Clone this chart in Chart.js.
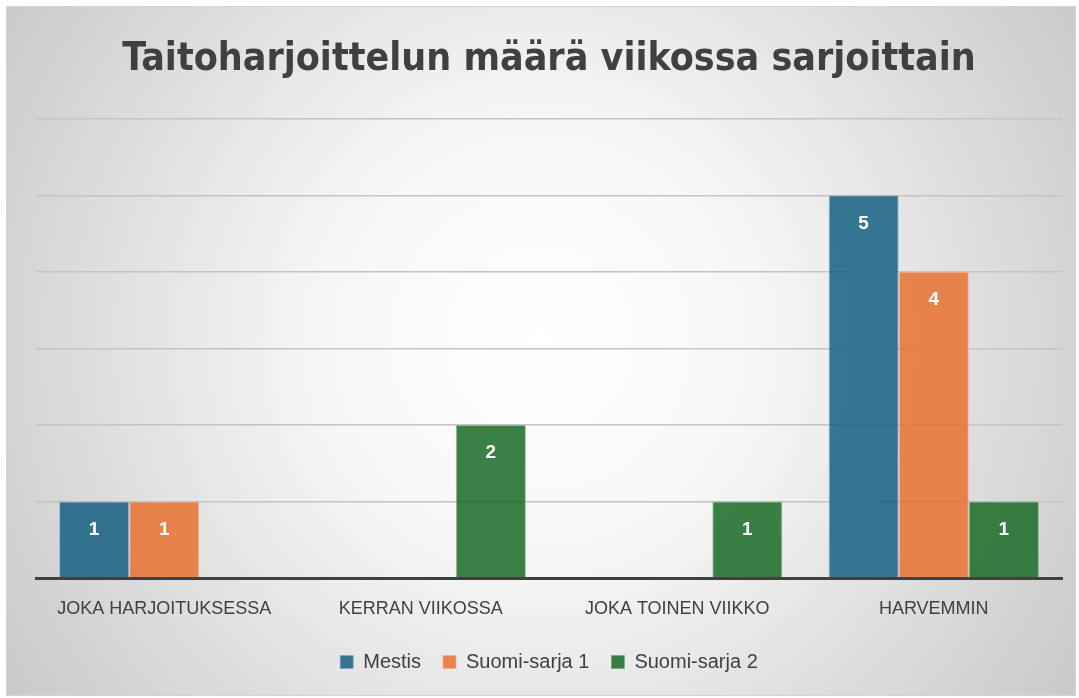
<!DOCTYPE html>
<html>
<head>
<meta charset="utf-8">
<script src="https://cdn.jsdelivr.net/npm/chart.js@4/dist/chart.umd.min.js"></script>
<style>
html,body{margin:0;padding:0;background:#ffffff;}
#wrap{position:relative;width:1079px;height:698px;}
</style>
</head>
<body>
<div id="wrap"><canvas id="c" width="1079" height="698"></canvas></div>
<script>
const titleText = 'Taitoharjoittelun määrä viikossa sarjoittain';
const categories = ['JOKA HARJOITUKSESSA', 'KERRAN VIIKOSSA', 'JOKA TOINEN VIIKKO', 'HARVEMMIN'];
const seriesNames = ['Mestis', 'Suomi-sarja 1', 'Suomi-sarja 2'];
const mestis = [1, null, null, 5];
const suomiSarja1 = [1, null, null, 4];
const suomiSarja2 = [null, 2, 1, 1];
const yTicks = [0, 1, 2, 3, 4, 5, 6];

const fills = ['rgba(21,96,130,0.85)', 'rgba(233,113,50,0.85)', 'rgba(25,107,36,0.85)'];
const borders = ['rgba(120,170,195,0.7)', 'rgba(245,175,140,0.8)', 'rgba(110,170,115,0.7)'];

const bgPlugin = {
  id: 'bg',
  beforeDraw(chart) {
    const ctx = chart.ctx;
    ctx.save();
    ctx.fillStyle = '#ffffff';
    ctx.fillRect(0, 0, chart.width, chart.height);
    const g = ctx.createRadialGradient(540, 340, 0, 540, 340, 640);
    g.addColorStop(0, '#ffffff');
    g.addColorStop(0.35, '#f6f6f6');
    g.addColorStop(1, '#c9c9c9');
    ctx.fillStyle = g;
    ctx.fillRect(6, 6, 1070, 690);
    ctx.strokeStyle = '#d4d4d4';
    ctx.lineWidth = 1;
    ctx.strokeRect(6.5, 6.5, 1069, 689);
    ctx.restore();
  }
};

const labelPlugin = {
  id: 'barLabels',
  afterDatasetsDraw(chart) {
    const ctx = chart.ctx;
    ctx.save();
    ctx.fillStyle = '#ffffff';
    ctx.font = 'bold 19px "Liberation Sans", Arial, sans-serif';
    ctx.textAlign = 'center';
    ctx.textBaseline = 'middle';
    chart.data.datasets.forEach((ds, i) => {
      const meta = chart.getDatasetMeta(i);
      meta.data.forEach((bar, j) => {
        const v = ds.data[j];
        if (v === null || v === undefined) return;
        ctx.fillText(String(v), bar.x, bar.y + 28);
      });
    });
    ctx.restore();
  }
};

new Chart(document.getElementById('c'), {
  type: 'bar',
  data: {
    labels: categories,
    datasets: [
      { label: seriesNames[0], data: mestis, backgroundColor: fills[0], borderColor: borders[0], borderWidth: 1 },
      { label: seriesNames[1], data: suomiSarja1, backgroundColor: fills[1], borderColor: borders[1], borderWidth: 1 },
      { label: seriesNames[2], data: suomiSarja2, backgroundColor: fills[2], borderColor: borders[2], borderWidth: 1 }
    ]
  },
  options: {
    responsive: false,
    animation: false,
    devicePixelRatio: 1,
    layout: { padding: { left: 36, right: 17, top: 6, bottom: 16 } },
    datasets: { bar: { categoryPercentage: 0.82, barPercentage: 1.0 } },
    plugins: {
      title: {
        display: true,
        text: titleText,
        color: '#404040',
        font: { family: '"DejaVu Sans Condensed", "Liberation Sans Narrow", sans-serif', size: 39, weight: 'bold' },
        padding: { top: 30, bottom: 36 }
      },
      legend: {
        position: 'bottom',
        labels: {
          color: '#404040',
          font: { family: '"Liberation Sans", Arial, sans-serif', size: 20 },
          boxWidth: 13,
          boxHeight: 13,
          padding: 22
        }
      },
      tooltip: { enabled: false }
    },
    scales: {
      x: {
        grid: { display: false, drawTicks: false },
        border: { display: true, color: '#404040', width: 3 },
        ticks: {
          color: '#404040',
          font: { family: '"Liberation Sans", Arial, sans-serif', size: 18 },
          padding: 20,
          maxRotation: 0,
          autoSkip: false
        },
        afterFit(scale) { scale.height = 52; }
      },
      y: {
        min: yTicks[0],
        max: yTicks[yTicks.length - 1],
        afterBuildTicks(scale) { scale.ticks = yTicks.map(v => ({ value: v })); },
        ticks: { display: false },
        grid: { color: '#c4c4c4', lineWidth: 1.5, drawTicks: false },
        border: { display: false },
        afterFit(scale) { scale.width = 0; }
      }
    }
  },
  plugins: [bgPlugin, labelPlugin]
});
</script>
</body>
</html>
